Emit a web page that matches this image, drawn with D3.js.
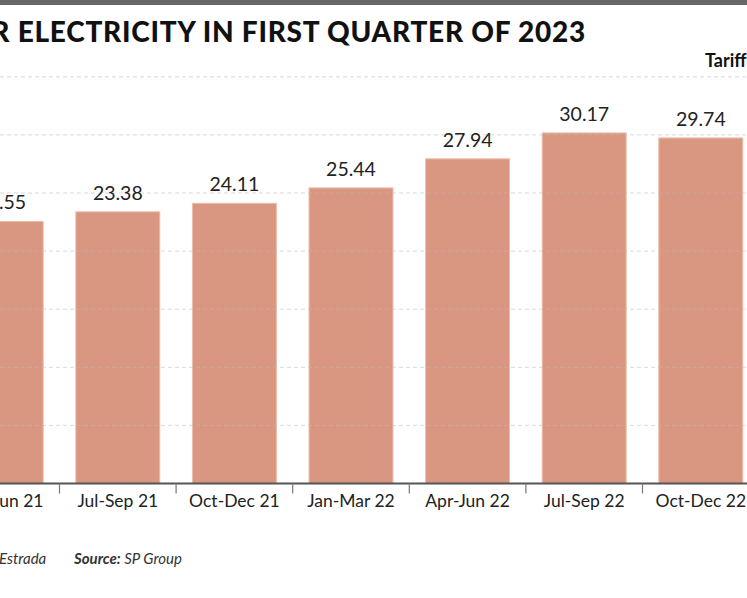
<!DOCTYPE html>
<html>
<head>
<meta charset="utf-8">
<script src="https://cdn.jsdelivr.net/npm/d3@7"></script>
<style>
  body { margin: 0; background: #fff; overflow: hidden; }
  svg { display: block; }
</style>
</head>
<body>
<script>
// chart size
var w = 747;
var h = 598;

// data
var quarters = ["Apr-Jun 21", "Jul-Sep 21", "Oct-Dec 21", "Jan-Mar 22", "Apr-Jun 22", "Jul-Sep 22", "Oct-Dec 22"];
var tariffs = [22.55, 23.38, 24.11, 25.44, 27.94, 30.17, 29.74];
var gridTicks = [5, 10, 15, 20, 25, 30, 35];

var svg = d3.select("body")
            .append("svg")
            .attr("width", w)
            .attr("height", h);

// top band
svg.append("rect")
    .attr("x", 0).attr("y", 0)
    .attr("width", w).attr("height", 5)
    .attr("fill", "#666");

svg.append("text")
    .attr("x", 586)
    .attr("y", 42)
    .attr("text-anchor", "end")
    .attr("font-family", "Lato, sans-serif")
    .attr("font-weight", 900)
    .attr("font-size", "28px")
    .attr("letter-spacing", "0.75px")
    .attr("fill", "#111")
    .text("TARIFF FOR ELECTRICITY IN FIRST QUARTER OF 2023");

svg.append("text")
    .attr("x", 705)
    .attr("y", 67)
    .attr("font-family", "Lato, sans-serif")
    .attr("font-weight", 700)
    .attr("font-size", "18px")
    .attr("fill", "#111")
    .text("Tariff (cents/kWh)");

var baseY = 483.5;

var x = d3.scaleBand()
    .domain(quarters)
    .range([-57.1, -57.1 + 116.6 * quarters.length])
    .paddingInner(0.28)
    .paddingOuter(0.14);

var y = d3.scaleLinear()
    .domain([0, 35])
    .range([baseY, 76.8]);

var data = quarters.map(function(q, i) {
    return { q: q, v: tariffs[i] };
});

// bars
svg.selectAll("rect.bar")
    .data(data)
    .enter()
    .append("rect")
    .attr("class", "bar")
    .attr("x", function(d) { return x(d.q); })
    .attr("y", function(d) { return y(d.v); })
    .attr("width", x.bandwidth())
    .attr("height", function(d) { return baseY - y(d.v); })
    .attr("fill", "#d99681")
    .attr("stroke", "#eebcaa")
    .attr("stroke-width", 1);

// dashed grid on top
svg.append("g")
    .selectAll("line")
    .data(gridTicks)
    .enter()
    .append("line")
    .attr("x1", 0)
    .attr("x2", w)
    .attr("y1", function(d) { return y(d); })
    .attr("y2", function(d) { return y(d); })
    .attr("stroke", "#bbb")
    .attr("stroke-opacity", 0.55)
    .attr("stroke-dasharray", "4,3");

// value labels
svg.selectAll("text.val")
    .data(data)
    .enter()
    .append("text")
    .attr("class", "val")
    .attr("x", function(d) { return x(d.q) + x.bandwidth() / 2; })
    .attr("y", function(d) { return y(d.v) - 12; })
    .attr("text-anchor", "middle")
    .attr("font-family", "Lato, sans-serif")
    .attr("font-size", "19.5px")
    .attr("fill", "#222")
    .text(function(d) { return d.v.toFixed(2); });

// x axis
var axis = svg.append("g")
    .attr("transform", "translate(0," + baseY + ")")
    .call(d3.axisBottom(x).tickSize(0).tickPadding(11));

axis.select(".domain").remove();
axis.selectAll("text")
    .attr("font-family", "Lato, sans-serif")
    .attr("font-size", "17.5px")
    .attr("fill", "#222");

axis.append("line")
    .attr("x1", 0).attr("x2", w)
    .attr("stroke", "#555")
    .attr("stroke-width", 2);

// separators between quarters
var step = x.step();
axis.selectAll("line.sep")
    .data(quarters.slice(1))
    .enter()
    .append("line")
    .attr("class", "sep")
    .attr("x1", function(d) { return x(d) - step * x.paddingInner() / 2; })
    .attr("x2", function(d) { return x(d) - step * x.paddingInner() / 2; })
    .attr("y1", 0)
    .attr("y2", 10)
    .attr("stroke", "#777")
    .attr("stroke-width", 1.2);

// footer
var foot = svg.append("text")
    .attr("y", 564)
    .attr("font-family", "Lato, sans-serif")
    .attr("font-size", "15px")
    .attr("font-style", "italic")
    .attr("fill", "#333");

foot.append("tspan").attr("x", -1).text("Estrada");
foot.append("tspan").attr("x", 74).attr("font-weight", 700).text("Source:");
foot.append("tspan").text(" SP Group");
</script>
</body>
</html>
